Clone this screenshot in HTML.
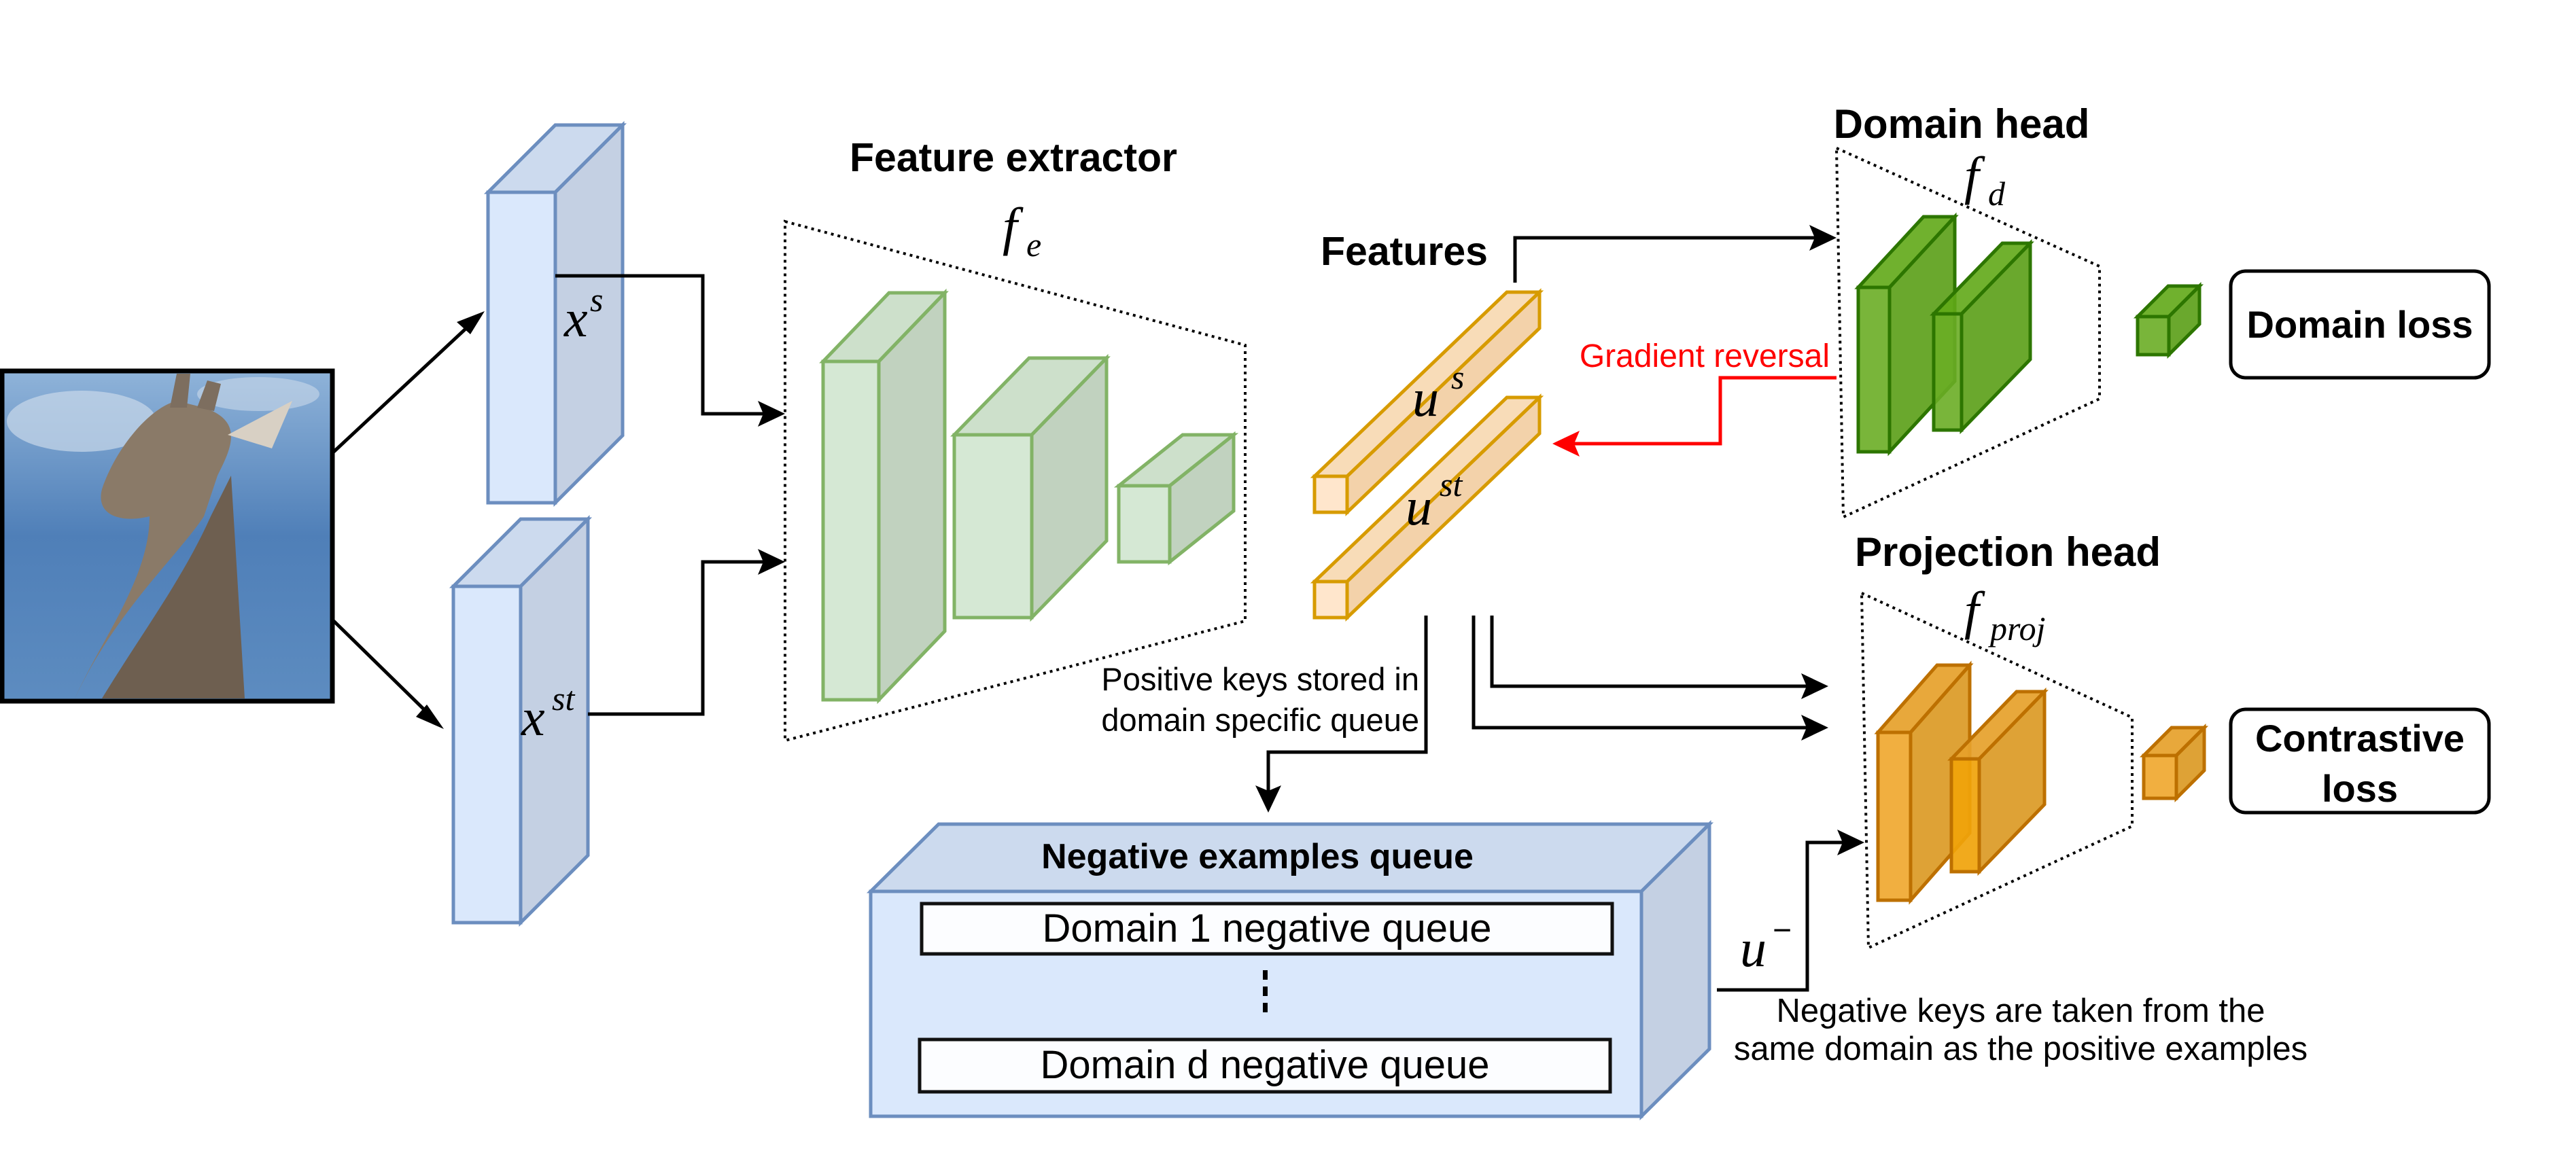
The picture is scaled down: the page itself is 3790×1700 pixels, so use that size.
<!DOCTYPE html>
<html><head><meta charset="utf-8"><style>
html,body{margin:0;padding:0;background:#fff;}
svg{display:block;}
.b{font-family:"Liberation Sans",sans-serif;font-weight:bold;}
.r{font-family:"Liberation Sans",sans-serif;}
.m{font-family:"Liberation Serif",serif;font-style:italic;}
</style></head><body>
<svg width="3790" height="1700" viewBox="0 0 3790 1700" xmlns="http://www.w3.org/2000/svg">
<defs>
<linearGradient id="sky" x1="0" y1="0" x2="0" y2="1">
<stop offset="0" stop-color="#8fb3d9"/><stop offset="0.5" stop-color="#4f7fb8"/><stop offset="1" stop-color="#5d8cc0"/>
</linearGradient>
</defs>
<rect width="3790" height="1700" fill="#fff"/>

<!-- giraffe image -->
<rect x="3" y="546" width="486" height="486" fill="url(#sky)" stroke="#000" stroke-width="7"/>
<ellipse cx="120" cy="620" rx="110" ry="45" fill="#c9d9ea" opacity="0.7"/>
<ellipse cx="380" cy="580" rx="90" ry="25" fill="#c9d9ea" opacity="0.6"/>
<path d="M110 1028 C170 900 260 820 300 760 L320 700 C340 660 360 620 300 600 L260 590 C220 600 170 660 150 720 C140 760 180 770 220 760 C220 850 150 940 110 1028 Z" fill="#8a7a68"/>
<path d="M150 1028 C210 930 270 850 310 760 L340 700 L360 1028 Z" fill="#6e5f50"/>
<path d="M250 600 l10 -50 l20 0 l-5 50 Z M290 600 l15 -40 l20 5 l-10 40 Z" fill="#7d6e5f"/>
<path d="M335 640 L430 590 L400 660 Z" fill="#d8d0c4"/>

<!-- arrows from image -->
<g stroke="#000" stroke-width="5" fill="none">
<line x1="491" y1="665" x2="700" y2="470"/>
<line x1="491" y1="914" x2="640" y2="1060"/>
</g>
<polygon points="713,458 672,474 692,492" fill="#000"/>
<polygon points="653,1073 628,1037 612,1055" fill="#000"/>

<!-- x^s block -->
<g stroke="#6c8ebf" stroke-width="5">
<polygon points="718,283 817,283 916,184 817,184" fill="#ccdaee"/>
<polygon points="817,283 916,184 916,641 817,740" fill="#c4d0e3"/>
<rect x="718" y="283" width="99" height="457" fill="#dae8fc"/>
</g>
<text x="830" y="495" class="m" font-size="78">x</text><text x="868" y="458" class="m" font-size="50">s</text>
<!-- x^st block -->
<g stroke="#6c8ebf" stroke-width="5">
<polygon points="667,863 766,863 865,764 766,764" fill="#ccdaee"/>
<polygon points="766,863 865,764 865,1259 766,1358" fill="#c4d0e3"/>
<rect x="667" y="863" width="99" height="495" fill="#dae8fc"/>
</g>
<text x="767" y="1082" class="m" font-size="78">x</text><text x="812" y="1045" class="m" font-size="50">st</text>

<!-- connectors into feature extractor -->
<g stroke="#000" stroke-width="5" fill="none">
<polyline points="817,406 1034,406 1034,609 1130,609"/>
<polyline points="865,1051 1034,1051 1034,827 1130,827"/>
</g>
<polygon points="1155,609 1115,590 1123,609 1115,628" fill="#000"/>
<polygon points="1155,827 1115,808 1123,827 1115,846" fill="#000"/>

<!-- feature extractor -->
<polygon points="1155,326 1832,508 1832,914 1155,1090" fill="none" stroke="#000" stroke-width="4" stroke-dasharray="4,6"/>
<text x="1491" y="252" class="b" font-size="59" text-anchor="middle">Feature extractor</text>
<text x="1475" y="360" class="m" font-size="78">f</text><text x="1510" y="377" class="m" font-size="50">e</text>
<g stroke="#82b366" stroke-width="5">
<polygon points="1211,532 1293,532 1390,431 1308,431" fill="#cde0cb"/>
<polygon points="1293,532 1390,431 1390,929 1293,1030" fill="#c1d2bf"/>
<rect x="1211" y="532" width="82" height="498" fill="#d5e8d4"/>
<polygon points="1404,640 1518,640 1628,527 1514,527" fill="#cde0cb"/>
<polygon points="1518,640 1628,527 1628,796 1518,909" fill="#c1d2bf"/>
<rect x="1404" y="640" width="114" height="269" fill="#d5e8d4"/>
<polygon points="1646,715 1721,715 1815,640 1740,640" fill="#cde0cb"/>
<polygon points="1721,715 1815,640 1815,752 1721,827" fill="#c1d2bf"/>
<rect x="1646" y="715" width="75" height="112" fill="#d5e8d4"/>
</g>

<!-- features -->
<text x="2066" y="390" class="b" font-size="59" text-anchor="middle">Features</text>
<g stroke="#d79b00" stroke-width="5">
<polygon points="1934,701 1982,701 2265,430 2217,430" fill="#f8dcb8"/>
<polygon points="1982,701 2265,430 2265,483 1982,754" fill="#f3d2aa"/>
<rect x="1934" y="701" width="48" height="53" fill="#ffe6cc"/>
<polygon points="1934,856 1982,856 2265,585 2217,585" fill="#f8dcb8"/>
<polygon points="1982,856 2265,585 2265,638 1982,909" fill="#f3d2aa"/>
<rect x="1934" y="856" width="48" height="53" fill="#ffe6cc"/>
</g>
<text x="2078" y="612" class="m" font-size="78">u</text><text x="2135" y="572" class="m" font-size="50">s</text>
<text x="2068" y="772" class="m" font-size="78">u</text><text x="2118" y="730" class="m" font-size="50">st</text>

<!-- features -> domain head -->
<polyline points="2229,416 2229,350 2680,350" stroke="#000" stroke-width="5" fill="none"/>
<polygon points="2702,350 2662,331 2670,350 2662,369" fill="#000"/>
<!-- gradient reversal -->
<polyline points="2702,556 2531,556 2531,653 2310,653" stroke="#ff0000" stroke-width="5" fill="none"/>
<polygon points="2284,653 2324,634 2316,653 2324,672" fill="#ff0000"/>
<text x="2692" y="540" class="r" font-size="48" fill="#ff0000" text-anchor="end">Gradient reversal</text>

<!-- domain head -->
<text x="2886" y="203" class="b" font-size="60" text-anchor="middle">Domain head</text>
<text x="2890" y="285" class="m" font-size="78">f</text><text x="2925" y="302" class="m" font-size="50">d</text>
<polygon points="2702,218 3089,392 3089,587 2712,761" fill="none" stroke="#000" stroke-width="4" stroke-dasharray="4,6"/>
<g stroke="#2d7600" stroke-width="5" fill-opacity="0.9">
<polygon points="2734,423 2780,423 2876,319 2830,319" fill="#60a917"/>
<polygon points="2780,423 2876,319 2876,561 2780,665" fill="#5a9e16"/>
<rect x="2734" y="423" width="46" height="242" fill="#6aad25"/>
<polygon points="2845,462 2886,462 2987,358 2946,358" fill="#60a917"/>
<polygon points="2886,462 2987,358 2987,529 2886,633" fill="#5a9e16"/>
<rect x="2845" y="462" width="41" height="171" fill="#6aad25"/>
<polygon points="3145,466 3191,466 3236,421 3190,421" fill="#60a917"/>
<polygon points="3191,466 3236,421 3236,477 3191,522" fill="#5a9e16"/>
<rect x="3145" y="466" width="46" height="56" fill="#6aad25"/>
</g>
<rect x="3282" y="399" width="380" height="157" rx="22" fill="#fff" stroke="#000" stroke-width="5"/>
<text x="3472" y="497" class="b" font-size="56" text-anchor="middle">Domain loss</text>

<!-- projection head -->
<text x="2954" y="833" class="b" font-size="60" text-anchor="middle">Projection head</text>
<text x="2890" y="925" class="m" font-size="78">f</text><text x="2928" y="942" class="m" font-size="50">proj</text>
<polygon points="2739,873 3137,1056 3137,1216 2749,1395" fill="none" stroke="#000" stroke-width="4" stroke-dasharray="4,6"/>
<g stroke="#bd7000" stroke-width="5" fill-opacity="0.92">
<polygon points="2763,1078 2811,1078 2898,979 2850,979" fill="#e6a12a"/>
<polygon points="2811,1078 2898,979 2898,1226 2811,1325" fill="#db9a25"/>
<rect x="2763" y="1078" width="48" height="247" fill="#f0a830"/>
<polygon points="2871,1117 2912,1117 3008,1018 2967,1018" fill="#e6a12a"/>
<polygon points="2912,1117 3008,1018 3008,1184 2912,1283" fill="#db9a25"/>
<rect x="2871" y="1117" width="41" height="166" fill="#f0a30a"/>
<polygon points="3154,1112 3202,1112 3243,1071 3195,1071" fill="#e6a12a"/>
<polygon points="3202,1112 3243,1071 3243,1134 3202,1175" fill="#db9a25"/>
<rect x="3154" y="1112" width="48" height="63" fill="#f0a830"/>
</g>
<rect x="3282" y="1044" width="380" height="152" rx="22" fill="#fff" stroke="#000" stroke-width="5"/>
<text x="3472" y="1106" class="b" font-size="56" text-anchor="middle">Contrastive</text>
<text x="3472" y="1180" class="b" font-size="56" text-anchor="middle">loss</text>

<!-- features -> projection -->
<g stroke="#000" stroke-width="5" fill="none">
<polyline points="2195,906 2195,1010 2668,1010"/>
<polyline points="2168,906 2168,1071 2668,1071"/>
<polyline points="2098,906 2098,1107 1866,1107 1866,1175"/>
<polyline points="2526,1457 2659,1457 2659,1240 2722,1240"/>
</g>
<polygon points="2690,1010 2650,991 2658,1010 2650,1029" fill="#000"/>
<polygon points="2690,1071 2650,1052 2658,1071 2650,1090" fill="#000"/>
<polygon points="2743,1240 2703,1221 2711,1240 2703,1259" fill="#000"/>
<polygon points="1866,1196 1847,1156 1866,1164 1885,1156" fill="#000"/>
<text x="2088" y="1016" class="r" font-size="47" text-anchor="end">Positive keys stored in</text>
<text x="2088" y="1076" class="r" font-size="47" text-anchor="end">domain specific queue</text>

<!-- negative queue -->
<g stroke="#6c8ebf" stroke-width="5">
<polygon points="1281,1312 2415,1312 2515,1213 1381,1213" fill="#ccdaee"/>
<polygon points="2415,1312 2515,1213 2515,1544 2415,1643" fill="#c4d0e3"/>
<rect x="1281" y="1312" width="1134" height="331" fill="#dae8fc"/>
</g>
<text x="1850" y="1278" class="b" font-size="52" text-anchor="middle">Negative examples queue</text>
<rect x="1356" y="1330" width="1016" height="74" fill="#fcfdff" stroke="#111" stroke-width="5"/>
<text x="1864" y="1386" class="r" font-size="58" text-anchor="middle">Domain 1 negative queue</text>
<g fill="#000"><rect x="1858" y="1428" width="7" height="14"/><rect x="1858" y="1452" width="7" height="14"/><rect x="1858" y="1476" width="7" height="14"/></g>
<rect x="1353" y="1530" width="1016" height="77" fill="#fcfdff" stroke="#111" stroke-width="5"/>
<text x="1861" y="1587" class="r" font-size="58" text-anchor="middle">Domain d negative queue</text>

<text x="2560" y="1422" class="m" font-size="78">u</text><text x="2608" y="1385" class="r" font-size="48">−</text>
<text x="2973" y="1504" class="r" font-size="49" text-anchor="middle">Negative keys are taken from the</text>
<text x="2973" y="1560" class="r" font-size="49" text-anchor="middle">same domain as the positive examples</text>
</svg>
</body></html>
